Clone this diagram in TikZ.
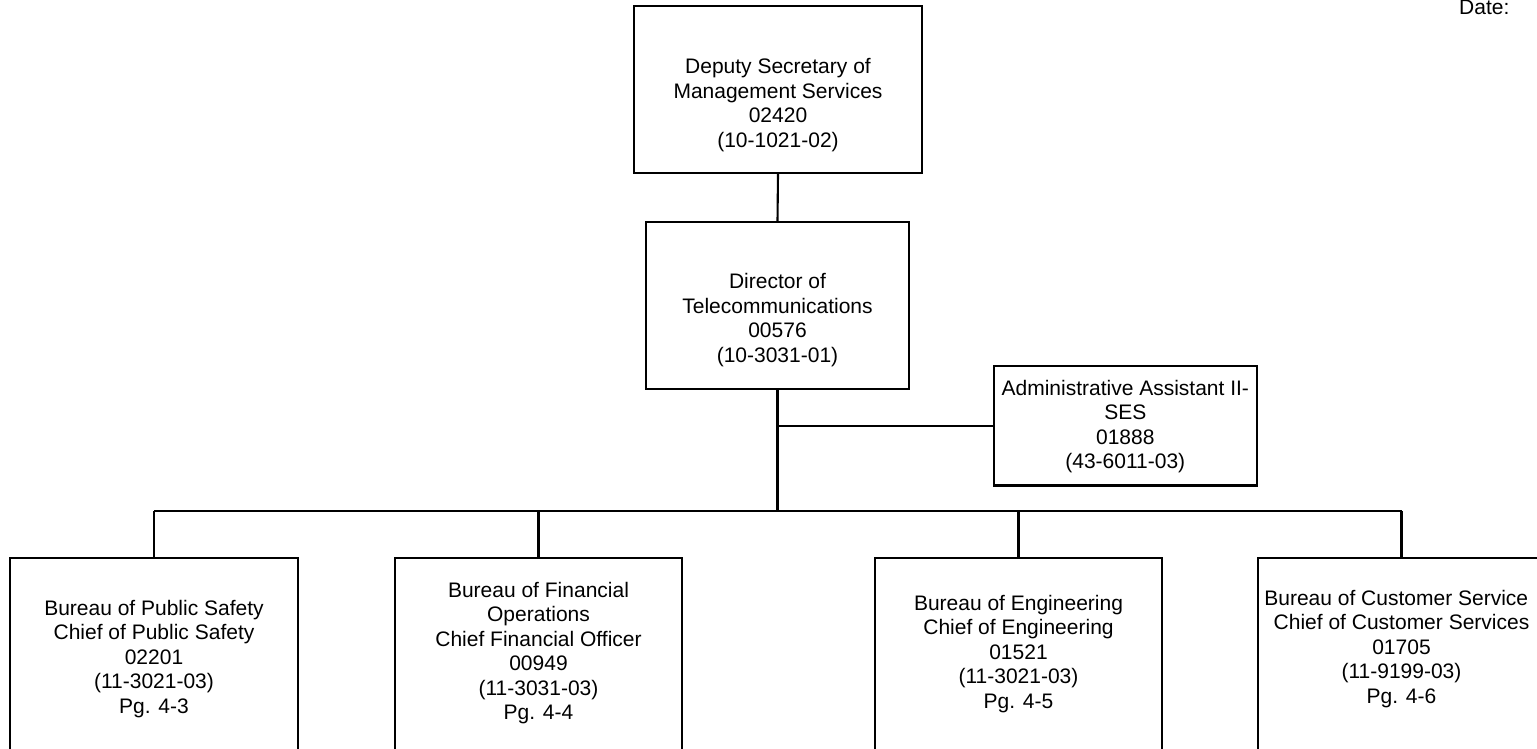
\documentclass[tikz,border=0pt]{standalone}
\usepackage{fontspec}
\setmainfont{Liberation Sans}
\begin{document}
\begin{tikzpicture}[x=1pt,y=-1pt,
  orgbox/.style={draw, line width=2.1pt, inner sep=0pt, minimum width=#1},
  orgtext/.style={anchor=north, inner sep=0pt, align=center,
    font=\fontsize{21}{24.5}\selectfont},
  link/.style={line width=2.1pt}]
\useasboundingbox (0,0) rectangle (1537,749);
\clip (0,0) rectangle (1537,749);

% top level
\node[orgbox=288pt, minimum height=167pt] (dep) at (778,89.5) {};
\node[orgtext] (deptxt) at (778,58.3)
  {Deputy Secretary of\\Management Services\\02420\\(10-1021-02)};

\node[orgbox=263pt, minimum height=167pt] (dir) at (777.5,305.5) {};
\node[orgtext] (dirtxt) at (777.5,273.3)
  {Director of\\Telecommunications\\00576\\(10-3031-01)};

\node[orgbox=263.5pt, minimum height=119.5pt] (adm) at (1125.3,425.7) {};
\node[orgtext] (admtxt) at (1125.3,380)
  {Administrative Assistant II-\\SES\\01888\\(43-6011-03)};

% bureaus (boxes run past the lower edge)
\node[orgbox=288pt, minimum height=202pt] (b1) at (154,659) {};
\node[orgtext] (b1txt) at (154,600)
  {Bureau of Public Safety\\Chief of Public Safety\\02201\\(11-3021-03)\\Pg. 4-3};

\node[orgbox=287pt, minimum height=202pt] (b2) at (538.5,659) {};
\node[orgtext] (b2txt) at (538.5,581.7)
  {Bureau of Financial\\Operations\\Chief Financial Officer\\00949\\(11-3031-03)\\Pg. 4-4};

\node[orgbox=287pt, minimum height=202pt] (b3) at (1018.5,659) {};
\node[orgtext] (b3txt) at (1018.5,595)
  {Bureau of Engineering\\Chief of Engineering\\01521\\(11-3021-03)\\Pg. 4-5};

\node[orgbox=287pt, minimum height=202pt] (b4) at (1401.5,659) {};
\node[orgtext] (b4txt) at (1401.5,590)
  {Bureau of Customer Service\phantom{s}\\Chief of Customer Services\\01705\\(11-9199-03)\\Pg. 4-6};

% date field
\node[anchor=base west, inner sep=0pt, font=\fontsize{21}{24.5}\selectfont]
  (date) at (1459,14.5) {Date:};

% connectors
\coordinate (admj) at (dir.south |- adm.west);
\coordinate (bus) at (777.5,511);
\coordinate (bus1) at (b1.north |- bus);
\coordinate (bus2) at (b2.north |- bus);
\coordinate (bus3) at (b3.north |- bus);
\coordinate (bus4) at (b4.north |- bus);

\draw[link] (dep.south) -- (dir.north);
\draw[link] (dir.south) -- (bus);
\draw[link] (admj) -- (adm.west);
\draw[link] (bus1) -- (bus4);
\draw[link] (bus1) -- (b1.north);
\draw[link] (bus2) -- (b2.north);
\draw[link] (bus3) -- (b3.north);
\draw[link] (bus4) -- (b4.north);
\end{tikzpicture}
\end{document}
